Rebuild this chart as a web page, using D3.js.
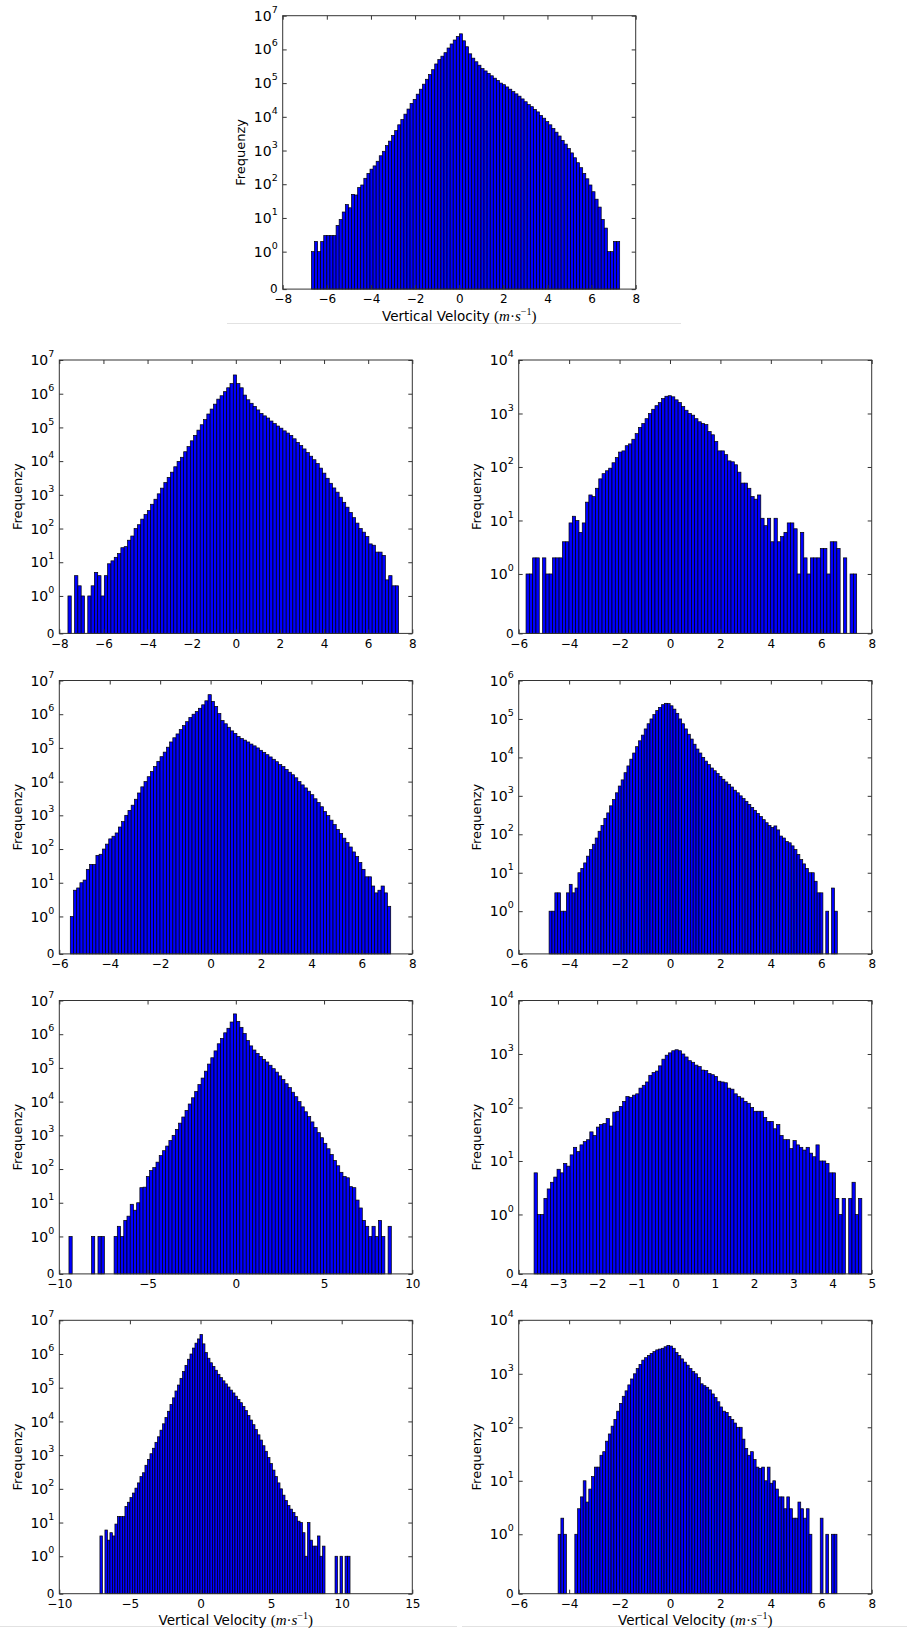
<!DOCTYPE html>
<html>
<head>
<meta charset="utf-8">
<script src="https://cdn.jsdelivr.net/npm/d3@7"></script>
<style>
  body { margin: 0; background: #fff; }
  svg { display: block; }
</style>
</head>
<body>
<svg id="chart" width="907" height="1631"></svg>
<script>
// frequency per bin (100 bins each)
const freqTop = [1,2,1,2,3,3,3,3,6,9,15,25,20,50,48,80,95,150,210,280,350,480,700,950,1400,1900,2800,3900,5800,8300,
  1.2e4,1.7e4,2.5e4,3.3e4,4.7e4,6.6e4,9.3e4,1.3e5,1.8e5,2.5e5,3.7e5,5e5,6.3e5,8e5,1.1e6,1.45e6,1.9e6,2.4e6,2.9e6,
  1.8e6,1.2e6,7.4e5,5.5e5,4.3e5,3.4e5,2.7e5,2.3e5,1.95e5,1.65e5,1.4e5,1.2e5,1e5,9e4,7.7e4,6.6e4,5.6e4,4.8e4,4.1e4,3.4e4,
  2.8e4,2.3e4,2e4,1.65e4,1.4e4,1.1e4,9100,7200,5800,4500,3500,2700,2000,1550,1150,850,610,435,310,210,
  145,95,60,36,21,9,5,1,1,2,2];
const freqL1 = [1,0,4,2,1,0,1,2,5,4,1,4,9,11,14,18,27,29,45,60,100,130,190,260,340,
  525,740,1070,1580,2300,3300,4700,6800,9800,1.3e4,1.9e4,2.7e4,4e4,5.8e4,8.3e4,1.2e5,1.7e5,2.5e5,3.5e5,4.9e5,6.9e5,8.7e5,1.15e6,1.5e6,2e6,
  3.6e6,
  2e6,1.5e6,9.1e5,6.6e5,5.2e5,4.2e5,3.3e5,2.6e5,2.2e5,1.9e5,1.55e5,1.3e5,1.1e5,9.5e4,7.9e4,6.8e4,5.8e4,4.6e4,3.6e4,2.9e4,
  2.3e4,1.8e4,1.4e4,1.1e4,8500,6200,4400,3100,2200,1600,1200,850,600,430,300,210,145,100,78,58,35,32,20,20,16,3,4,2,2];
const freqR1 = [1,1,2,2,0,2,1,1,2,2,2,4,4,9,12,10,6,9,22,30,28,40,60,75,85,95,120,150,190,200,
  250,270,330,420,550,650,800,1000,1200,1400,1600,1900,2100,2150,2050,1800,1600,1350,1150,1000,
  930,800,700,650,620,460,400,300,200,200,170,130,125,110,80,50,50,40,28,25,
  30,11,8,11,4,11,4,5,6,9,9,7,1,6,2,1,2,2,2,3,3,1,4,4,3,0,2,0,1,1];
const freqL2 = [1,6,7,10,12,25,35,35,65,70,100,140,200,240,300,450,650,1000,1400,2000,
  3000,4600,7000,1e4,1.4e4,2e4,2.8e4,4e4,5.5e4,7.5e4,1.05e5,1.5e5,2e5,2.6e5,3.5e5,4.6e5,6e5,8e5,1e6,1.2e6,
  1.5e6,1.9e6,2.5e6,3.8e6,
  2.4e6,1.7e6,1.05e6,6.5e5,5.2e5,4.1e5,3.2e5,2.7e5,2.2e5,1.9e5,1.7e5,1.5e5,1.3e5,1.15e5,1e5,8.5e4,7.4e4,6.3e4,5.4e4,4.6e4,
  3.9e4,3.2e4,2.8e4,2.3e4,1.9e4,1.6e4,1.3e4,1e4,8000,6500,5200,4100,3100,2400,1800,1300,980,720,530,380,
  290,210,155,115,82,60,40,25,15,15,8,5,6,8,5,2];
const freqR2 = [1,1,3,3,1,1,3,5,3,4,10,13,18,27,40,55,80,120,170,260,
  360,550,800,1200,1800,2600,4000,6000,9000,1.3e4,1.9e4,2.7e4,3.8e4,5.5e4,7.5e4,1e5,1.3e5,1.65e5,2e5,2.35e5,
  2.55e5,2.5e5,2.2e5,1.8e5,1.4e5,1e5,7.5e4,5.5e4,4e4,3e4,2.2e4,1.65e4,1.3e4,1e4,8000,6500,5300,4500,3800,3200,
  2700,2300,2000,1700,1400,1200,1000,850,720,600,500,420,350,290,240,200,170,150,165,130,
  90,80,65,60,50,40,30,22,17,13,10,10,6,3,3,0,1,0,4,1];
const freqL3 = [1,0,0,0,0,0,0,1,0,1,1,0,0,0,1,2,1,3,4,9,6,10,28,29,60,90,110,160,250,350,
  480,700,1000,1500,2300,3500,5500,8500,1.3e4,2e4,3.2e4,5e4,8e4,1.3e5,2e5,3.2e5,5.2e5,7.5e5,1.1e6,1.5e6,
  2.3e6,4e6,
  2.4e6,1.6e6,1.05e6,6.5e5,4.5e5,3.4e5,2.7e5,2.2e5,1.8e5,1.5e5,1.2e5,9.5e4,7.5e4,5.8e4,4.5e4,3.4e4,2.6e4,1.9e4,1.4e4,1e4,
  7000,5000,3600,2500,1700,1200,850,580,400,270,180,125,80,60,55,30,28,12,7,3,2,1,2,1,3,1,0,2];
const freqR3 = [6,1,1,2,3,4,5,7,6,9,8,13,18,15,20,23,25,35,30,43,
  48,50,62,45,82,85,105,130,160,155,170,180,230,260,300,400,450,480,600,800,
  950,1050,1150,1200,1150,1000,880,750,700,620,580,500,490,430,410,380,310,300,290,230,
  220,180,160,150,130,120,100,85,85,85,65,55,55,40,48,30,25,25,17,24,
  20,18,16,18,14,12,20,10,10,9,6,6,2,1,2,0,2,4,1,2];
const freqL4 = [4,0,6,3,5,4,9,15,15,15,30,40,55,75,105,150,230,300,500,750,
  1100,1600,2400,3500,5500,8500,1.3e4,2e4,3.2e4,5e4,8e4,1.2e5,1.9e5,3e5,4.6e5,7e5,1e6,1.5e6,2.1e6,2.8e6,
  3.8e6,2e6,1.1e6,7.5e5,5.5e5,4.3e5,3.3e5,2.5e5,2e5,1.6e5,1.3e5,1.05e5,8.5e4,7e4,5.6e4,4.5e4,3.6e4,2.8e4,2.1e4,1.5e4,
  1.1e4,8000,5700,4000,2800,1900,1300,850,560,360,230,150,100,65,45,32,25,20,15,11,
  10,5,1,10,3,2,2,4,1,2,0,0,0,0,1,0,1,0,1,1];
const freqR4 = [1,2,1,0,0,0,1,3,5,10,4,7,12,18,18,30,35,55,75,105,
  140,200,280,380,480,620,800,1000,1250,1500,1800,2000,2200,2400,2600,2800,2900,3000,3200,3400,
  3300,3000,2500,2200,1900,1650,1450,1250,1100,1000,850,650,600,560,500,420,360,300,240,200,
  190,160,140,120,100,100,60,40,30,35,25,18,17,18,10,18,9,10,7,5,
  5,3,5,3,2,2,4,3,2,3,1,0,0,0,2,0,1,0,1,1];

// histogram extent (first bin edge, last bin edge) per panel
const binRanges = [[-6.698, 7.274], [-7.608, 7.381], [-5.709, 7.404], [-5.564, 7.144], [-4.795, 6.636],
  [-9.453, 8.811], [-3.608, 4.748], [-7.123, 10.59], [-4.437, 6.623]];
const xDomains = [[-8, 8], [-8, 8], [-6, 8], [-6, 8], [-6, 8], [-10, 10], [-4, 5], [-10, 15], [-6, 8]];
const xTickSteps = [2, 2, 2, 2, 2, 5, 1, 5, 2];
const yTopExp = [7, 7, 4, 7, 6, 7, 4, 7, 4];

const FONT = "DejaVu Sans, Bitstream Vera Sans, sans-serif";
const LIN = 1 / (1 - 1 / 10); // linear part of old matplotlib symlog (linthresh 1)
const symlog = (v) => (v <= 1 ? v * LIN : LIN + Math.log10(v));

const svg = d3.select("#chart");
const W = 353, H = 273.4;

const panels = [
  { counts: freqTop, left: 282.7, top: 15.7, xlabel: true },
  { counts: freqL1, left: 59.3, top: 360 },
  { counts: freqR1, left: 518.7, top: 360 },
  { counts: freqL2, left: 59.3, top: 680.5 },
  { counts: freqR2, left: 518.7, top: 680.5 },
  { counts: freqL3, left: 59.3, top: 1000.5 },
  { counts: freqR3, left: 518.7, top: 1000.5 },
  { counts: freqL4, left: 59.3, top: 1320.3, xlabel: true },
  { counts: freqR4, left: 518.7, top: 1320.3, xlabel: true },
];

// faint separator lines of the page
svg.append("line").attr("x1", 227).attr("x2", 681).attr("y1", 323.5).attr("y2", 323.5)
  .attr("stroke", "#e2e2e2");
svg.append("line").attr("x1", 0).attr("x2", 457).attr("y1", 1626.5).attr("y2", 1626.5)
  .attr("stroke", "#e2e2e2");
svg.append("line").attr("x1", 462).attr("x2", 907).attr("y1", 1626.5).attr("y2", 1626.5)
  .attr("stroke", "#e2e2e2");

panels.forEach((p, i) => {
  const g = svg.append("g").attr("transform", `translate(${p.left},${p.top})`);
  const x = d3.scaleLinear().domain(xDomains[i]).range([0, W]);
  const y = d3.scaleLinear().domain([0, LIN + yTopExp[i]]).range([H, 0]);

  const [lo, hi] = binRanges[i];
  const bw = (hi - lo) / p.counts.length;
  const bins = p.counts
    .map((c, k) => ({ x0: lo + k * bw, x1: lo + (k + 1) * bw, c }))
    .filter((d) => d.c > 0);

  g.selectAll("rect.bar")
    .data(bins)
    .join("rect")
    .attr("class", "bar")
    .attr("x", (d) => x(d.x0))
    .attr("width", (d) => x(d.x1) - x(d.x0))
    .attr("y", (d) => y(symlog(d.c)))
    .attr("height", (d) => H - y(symlog(d.c)))
    .attr("fill", "#0000ff")
    .attr("stroke", "#000")
    .attr("stroke-width", 0.7);

  const xt = d3.range(xDomains[i][0], xDomains[i][1] + 1e-9, xTickSteps[i]);
  const yt = [0].concat(d3.range(0, yTopExp[i] + 1).map((e) => Math.pow(10, e)));

  // x axis (labels below, inward ticks top and bottom)
  g.append("g")
    .attr("transform", `translate(0,${H})`)
    .call(d3.axisBottom(x).tickValues(xt).tickSizeInner(-4).tickSizeOuter(0).tickPadding(5.7))
    .call((a) => a.select(".domain").remove())
    .attr("font-family", FONT)
    .attr("font-size", 12)
    .attr("color", "#000");
  g.append("g")
    .call(d3.axisTop(x).tickValues(xt).tickSizeInner(-4).tickSizeOuter(0).tickFormat(""))
    .call((a) => a.select(".domain").remove());

  // y ticks left and right
  g.append("g")
    .call(d3.axisLeft(y).tickValues(yt.map(symlog)).tickSizeInner(-4).tickSizeOuter(0).tickFormat(""))
    .call((a) => a.select(".domain").remove());
  g.append("g")
    .attr("transform", `translate(${W},0)`)
    .call(d3.axisRight(y).tickValues(yt.map(symlog)).tickSizeInner(-4).tickSizeOuter(0).tickFormat(""))
    .call((a) => a.select(".domain").remove());

  g.selectAll(".tick line").attr("stroke", "#333");

  yt.forEach((v, k) => {
    const t = g.append("text")
      .attr("x", -5)
      .attr("y", y(symlog(v)))
      .attr("text-anchor", "end")
      .attr("font-family", FONT)
      .attr("fill", "#000");
    if (v === 0) {
      t.attr("dy", 4.4).attr("font-size", 12).text("0");
    } else {
      t.attr("dy", 5.1);
      t.append("tspan").attr("font-size", 14).text("10");
      t.append("tspan").attr("font-size", 9.5).attr("dy", -8).text(k - 1);
    }
  });

  g.append("rect")
    .attr("width", W)
    .attr("height", H)
    .attr("fill", "none")
    .attr("stroke", "#333")
    .attr("stroke-width", 1);

  g.append("text")
    .attr("transform", `translate(-37.4,${H / 2}) rotate(-90)`)
    .attr("text-anchor", "middle")
    .attr("font-family", FONT)
    .attr("font-size", 13)
    .text("Frequenzy");

  if (p.xlabel) {
    const t = g.append("text")
      .attr("x", W / 2)
      .attr("y", H + 31.7)
      .attr("text-anchor", "middle")
      .attr("font-family", FONT)
      .attr("font-size", 13.5);
    t.append("tspan").text("Vertical Velocity ");
    const m = (s, italic, extra) => {
      const ts = t.append("tspan")
        .attr("font-family", "Liberation Serif, DejaVu Serif, serif")
        .attr("font-size", 15)
        .text(s);
      if (italic) ts.attr("font-style", "italic");
      if (extra) extra(ts);
      return ts;
    };
    m("(", false);
    m("m", true);
    m("\u00b7", false);
    m("s", true);
    m("\u22121", false, (ts) => ts.attr("font-size", 10).attr("dy", -6));
    m(")", false, (ts) => ts.attr("dy", 6));
  }
});
</script>
</body>
</html>
